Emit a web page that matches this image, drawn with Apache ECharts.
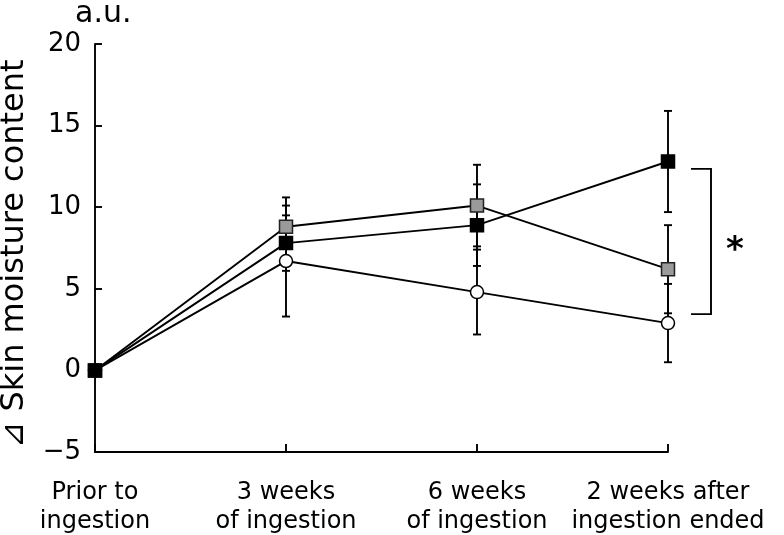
<!DOCTYPE html>
<html>
<head>
<meta charset="utf-8">
<script src="https://cdn.jsdelivr.net/npm/echarts@6/dist/echarts.min.js"></script>
<style>
  html, body { margin: 0; padding: 0; background: #fff; }
  #chart { width: 784px; height: 535px; }
</style>
</head>
<body>
<div id="chart"></div>
<script>
// ---- Data ----
const categories = ['Prior to\ningestion', '3 weeks\nof ingestion', '6 weeks\nof ingestion', '2 weeks after\ningestion ended'];
const yTicks = [-5, 0, 5, 10, 15, 20];

const blackMean = [0, 7.8, 8.9, 12.8];
const blackErr  = [0, 1.7, 2.5, 3.1];
const grayMean  = [0, 8.8, 10.1, 6.2];
const grayErr   = [0, 1.8, 2.5, 2.7];
const whiteMean = [0, 6.7, 4.8, 2.9];
const whiteErr  = [0, 3.4, 2.6, 2.4];

// significance bracket (value range) between groups at the last time point
const bracketTop = 12.35;
const bracketBottom = 3.45;
const sigLabel = '*';

const FONT = '"DejaVu Sans", Verdana, sans-serif';
const LW = 1.9;

function errData(mean, err) {
  const out = [];
  for (let i = 0; i < mean.length; i++) {
    if (err[i] > 0) out.push([i, mean[i] - err[i], mean[i] + err[i]]);
  }
  return out;
}

function renderErr(params, api) {
  const x = api.value(0);
  const top = api.coord([x, api.value(2)]);
  const bot = api.coord([x, api.value(1)]);
  const hw = 4;
  const st = { stroke: '#000', lineWidth: LW };
  return {
    type: 'group',
    children: [
      { type: 'line', shape: { x1: top[0], y1: top[1], x2: bot[0], y2: bot[1] }, style: st },
      { type: 'line', shape: { x1: top[0] - hw, y1: top[1], x2: top[0] + hw, y2: top[1] }, style: st },
      { type: 'line', shape: { x1: bot[0] - hw, y1: bot[1], x2: bot[0] + hw, y2: bot[1] }, style: st }
    ]
  };
}

function errSeries(name, mean, err) {
  return {
    name: name + ' SD', type: 'custom', z: 1,
    renderItem: renderErr, data: errData(mean, err), silent: true
  };
}

function lineSeries(name, mean, symbol, fill, border) {
  return {
    name: name, type: 'line', z: 3, data: mean,
    symbol: symbol, symbolSize: 13, showAllSymbol: true,
    lineStyle: { color: '#000', width: LW },
    itemStyle: { color: fill, borderColor: border, borderWidth: 1.5, opacity: 1 },
    emphasis: { disabled: true }, animation: false
  };
}

const chart = echarts.init(document.getElementById('chart'), null, { renderer: 'canvas' });
chart.setOption({
  animation: false,
  backgroundColor: '#fff',
  title: {
    text: 'a.u.', left: 70, top: -6,
    textStyle: { fontFamily: FONT, fontSize: 30, fontWeight: 'normal', color: '#000' }
  },
  grid: { left: 95, right: 116, top: 44, bottom: 83, containLabel: false, outerBoundsMode: 'none' },
  xAxis: {
    type: 'category', data: categories, boundaryGap: false,
    axisLine: { onZero: false, lineStyle: { color: '#000', width: LW } },
    axisTick: { inside: true, length: 8, alignWithLabel: true, lineStyle: { color: '#000', width: LW } },
    axisLabel: { interval: 0, fontFamily: FONT, fontSize: 24, lineHeight: 29, color: '#000', margin: 26 }
  },
  yAxis: {
    type: 'value', min: yTicks[0], max: yTicks[yTicks.length - 1], interval: 5,
    name: '⊿ Skin moisture content', nameLocation: 'middle', nameGap: 64, nameRotate: 90,
    nameTextStyle: { fontFamily: FONT, fontSize: 32, color: '#000', padding: [0, 12, 0, 0] },
    axisLine: { show: true, lineStyle: { color: '#000', width: LW } },
    axisTick: { show: true, inside: true, length: 7, lineStyle: { color: '#000', width: LW } },
    splitLine: { show: false },
    axisLabel: {
      fontFamily: FONT, fontSize: 26, color: '#000', margin: 14,
      formatter: v => (v < 0 ? '\u2212' + Math.abs(v) : String(v))
    }
  },
  series: [
    errSeries('Group C', whiteMean, whiteErr),
    errSeries('Group B', grayMean, grayErr),
    errSeries('Group A', blackMean, blackErr),
    lineSeries('Group C', whiteMean, 'circle', '#fff', '#000'),
    lineSeries('Group B', grayMean, 'rect', '#9a9a9a', '#222'),
    lineSeries('Group A', blackMean, 'rect', '#000', '#000')
  ]
});

// significance bracket positioned through the chart's own scales
const lastIdx = categories.length - 1;
const px = chart.convertToPixel({ xAxisIndex: 0 }, lastIdx);
const yTop = chart.convertToPixel({ yAxisIndex: 0 }, bracketTop);
const yBot = chart.convertToPixel({ yAxisIndex: 0 }, bracketBottom);
const bx0 = px + 23, bx1 = px + 43;
chart.setOption({
  graphic: [
    {
      type: 'polyline', silent: true,
      shape: { points: [[bx0, yTop], [bx1, yTop], [bx1, yBot], [bx0, yBot]] },
      style: { stroke: '#000', lineWidth: LW, fill: null }
    },
    {
      type: 'text', silent: true, x: bx1 + 24, y: (yTop + yBot) / 2 + 10,
      style: { text: sigLabel, font: 'bold 34px ' + FONT, fill: '#000', align: 'center', verticalAlign: 'middle' }
    }
  ]
});
</script>
</body>
</html>
